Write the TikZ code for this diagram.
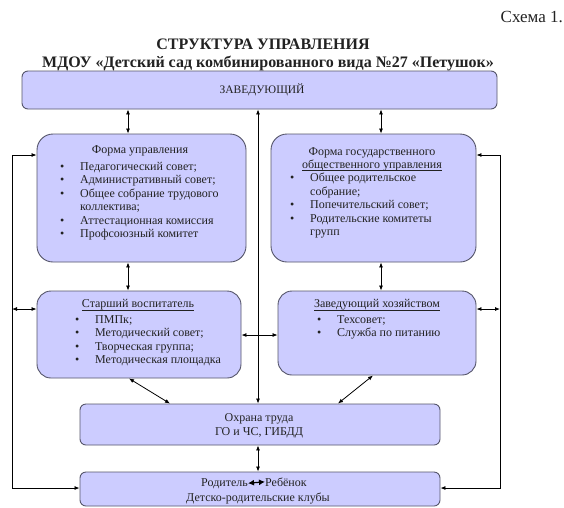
\documentclass[tikz,border=0pt]{standalone}
\usepackage{fontspec}
\setmainfont{Liberation Serif}
\usetikzlibrary{arrows.meta}
\definecolor{boxfill}{HTML}{CCCCFF}
\definecolor{boxline}{HTML}{55556A}
\definecolor{txtcol}{HTML}{222222}
\newcommand{\itm}[1]{\makebox[20pt][l]{\textbullet}#1}
\newcommand{\ind}{\hspace*{20pt}}
\newcommand{\uln}[1]{\underline{\raisebox{0pt}[\height][0.5pt]{#1}}}
\begin{document}
\begin{tikzpicture}[x=1pt,y=-1pt,
  box/.style={draw=boxline, fill=boxfill, line width=0.9pt, inner sep=0pt},
  txt/.style={font=\fontsize{12}{13.5}\selectfont, inner sep=0pt, text=txtcol},
  arr/.style={line width=0.8pt, -{Latex[length=5pt,width=4pt]}},
  darr/.style={line width=0.8pt, {Latex[length=5pt,width=4pt]}-{Latex[length=5pt,width=4pt]}},
]
\useasboundingbox (0,0) rectangle (564,507);
\fill[white] (0,0) rectangle (564,507);

% titles
\node[txt, font=\fontsize{17}{19}\selectfont, anchor=east] (scheme) at (563,17) {Схема 1.};
\node[txt, font=\bfseries\fontsize{16}{18}\selectfont] (t1) at (263,44) {СТРУКТУРА УПРАВЛЕНИЯ};
\node[txt, font=\bfseries\fontsize{16}{18}\selectfont] (t2) at (268,63) {МДОУ «Детский сад комбинированного вида №27 «Петушок»};

% boxes
\node[box, rounded corners=6pt, minimum width=475pt, minimum height=38pt] (zav) at (259.5,90) {};
\node[box, rounded corners=16pt, minimum width=209pt, minimum height=128pt] (fu) at (141.5,198) {};
\node[box, rounded corners=16pt, minimum width=205pt, minimum height=128pt] (fg) at (373.5,198) {};
\node[box, rounded corners=14pt, minimum width=204pt, minimum height=87pt] (st) at (139,334.5) {};
\node[box, rounded corners=14pt, minimum width=198pt, minimum height=84pt] (zh) at (377,333) {};
\node[box, rounded corners=6pt, minimum width=360pt, minimum height=41pt] (ohr) at (260,424.5) {};
\node[box, rounded corners=6pt, minimum width=360pt, minimum height=34pt] (rod) at (260,489) {};

% texts
\node[txt, font=\fontsize{11.5}{13}\selectfont] (zavt) at (262,90) {ЗАВЕДУЮЩИЙ};

\node[txt] (fut) at (140,151) {Форма управления};
\node[txt, align=left, anchor=north west] (ful) at (60,162) {\itm{Педагогический совет;}\\ \itm{Административный совет;}\\ \itm{Общее собрание трудового}\\ \ind коллектива;\\ \itm{Аттестационная комиссия}\\ \itm{Профсоюзный комитет}};

\node[txt, align=center, anchor=north] (fgt) at (372,147) {Форма государственного\\ \uln{общественного управления}};
\node[txt, align=left, anchor=north west] (fgl) at (290,173) {\itm{Общее родительское}\\ \ind собрание;\\ \itm{Попечительский совет;}\\ \itm{Родительские комитеты}\\ \ind групп};

\node[txt] (stt) at (138,305) {\uln{Старший воспитатель}};
\node[txt, align=left, anchor=north west] (stl) at (75,315) {\itm{ПМПк;}\\ \itm{Методический совет;}\\ \itm{Творческая группа;}\\ \itm{Методическая площадка}};

\node[txt] (zht) at (377,305) {\uln{Заведующий хозяйством}};
\node[txt, align=left, anchor=north west] (zhl) at (317,315) {\itm{Техсовет;}\\ \itm{Служба по питанию}};

\node[txt, align=center] (ohrt) at (259,426) {Охрана труда\\ ГО и ЧС, ГИБДД};

\node[txt, anchor=base east] (rodA) at (248,486) {Родитель};
\node[txt, anchor=base west] (rodB) at (265,486) {Ребёнок};
\node[txt] (rodC) at (258,498) {Детско-родительские клубы};
\draw[line width=1.2pt, {Latex[length=6pt,width=6pt]}-{Latex[length=6pt,width=6pt]}] (rodA.east) -- (rodB.west);

% coordinates for connector positions
\coordinate (xa) at (128,0);
\coordinate (xb) at (258,0);
\coordinate (xc) at (381,0);
\coordinate (xl) at (12,0);
\coordinate (xr) at (500,0);
\coordinate (ya) at (0,155);
\coordinate (yb) at (0,309);
\coordinate (yc) at (0,335);
\coordinate (yd) at (0,488);
\coordinate (d1) at (129,0);
\coordinate (d2) at (170,0);
\coordinate (d3) at (373,0);
\coordinate (d4) at (338,0);

% connectors
\draw[darr] (zav.south -| xa) -- (fu.north -| xa);
\draw[darr] (fu.south -| xa) -- (st.north -| xa);
\draw[darr] (zav.south -| xc) -- (fg.north -| xc);
\draw[darr] (fg.south -| xc) -- (zh.north -| xc);
\draw[darr] (zav.south -| xb) -- (ohr.north -| xb);
\draw[darr] (st.east |- yc) -- (zh.west |- yc);
\draw[darr] (ohr.south -| xb) -- (rod.north -| xb);
\draw[darr] (st.south -| d1) -- (ohr.north -| d2);
\draw[darr] (zh.south -| d3) -- (ohr.north -| d4);

\draw[arr] (xl |- yd) |- (fu.west |- ya);
\draw[arr] (xl |- ya) |- (rod.west |- yd);
\draw[darr] (xl |- yb) -- (st.west |- yb);

\draw[arr] (xr |- yd) |- (fg.east |- ya);
\draw[arr] (xr |- ya) |- (rod.east |- yd);
\draw[darr] (xr |- yb) -- (zh.east |- yb);
\end{tikzpicture}
\end{document}
